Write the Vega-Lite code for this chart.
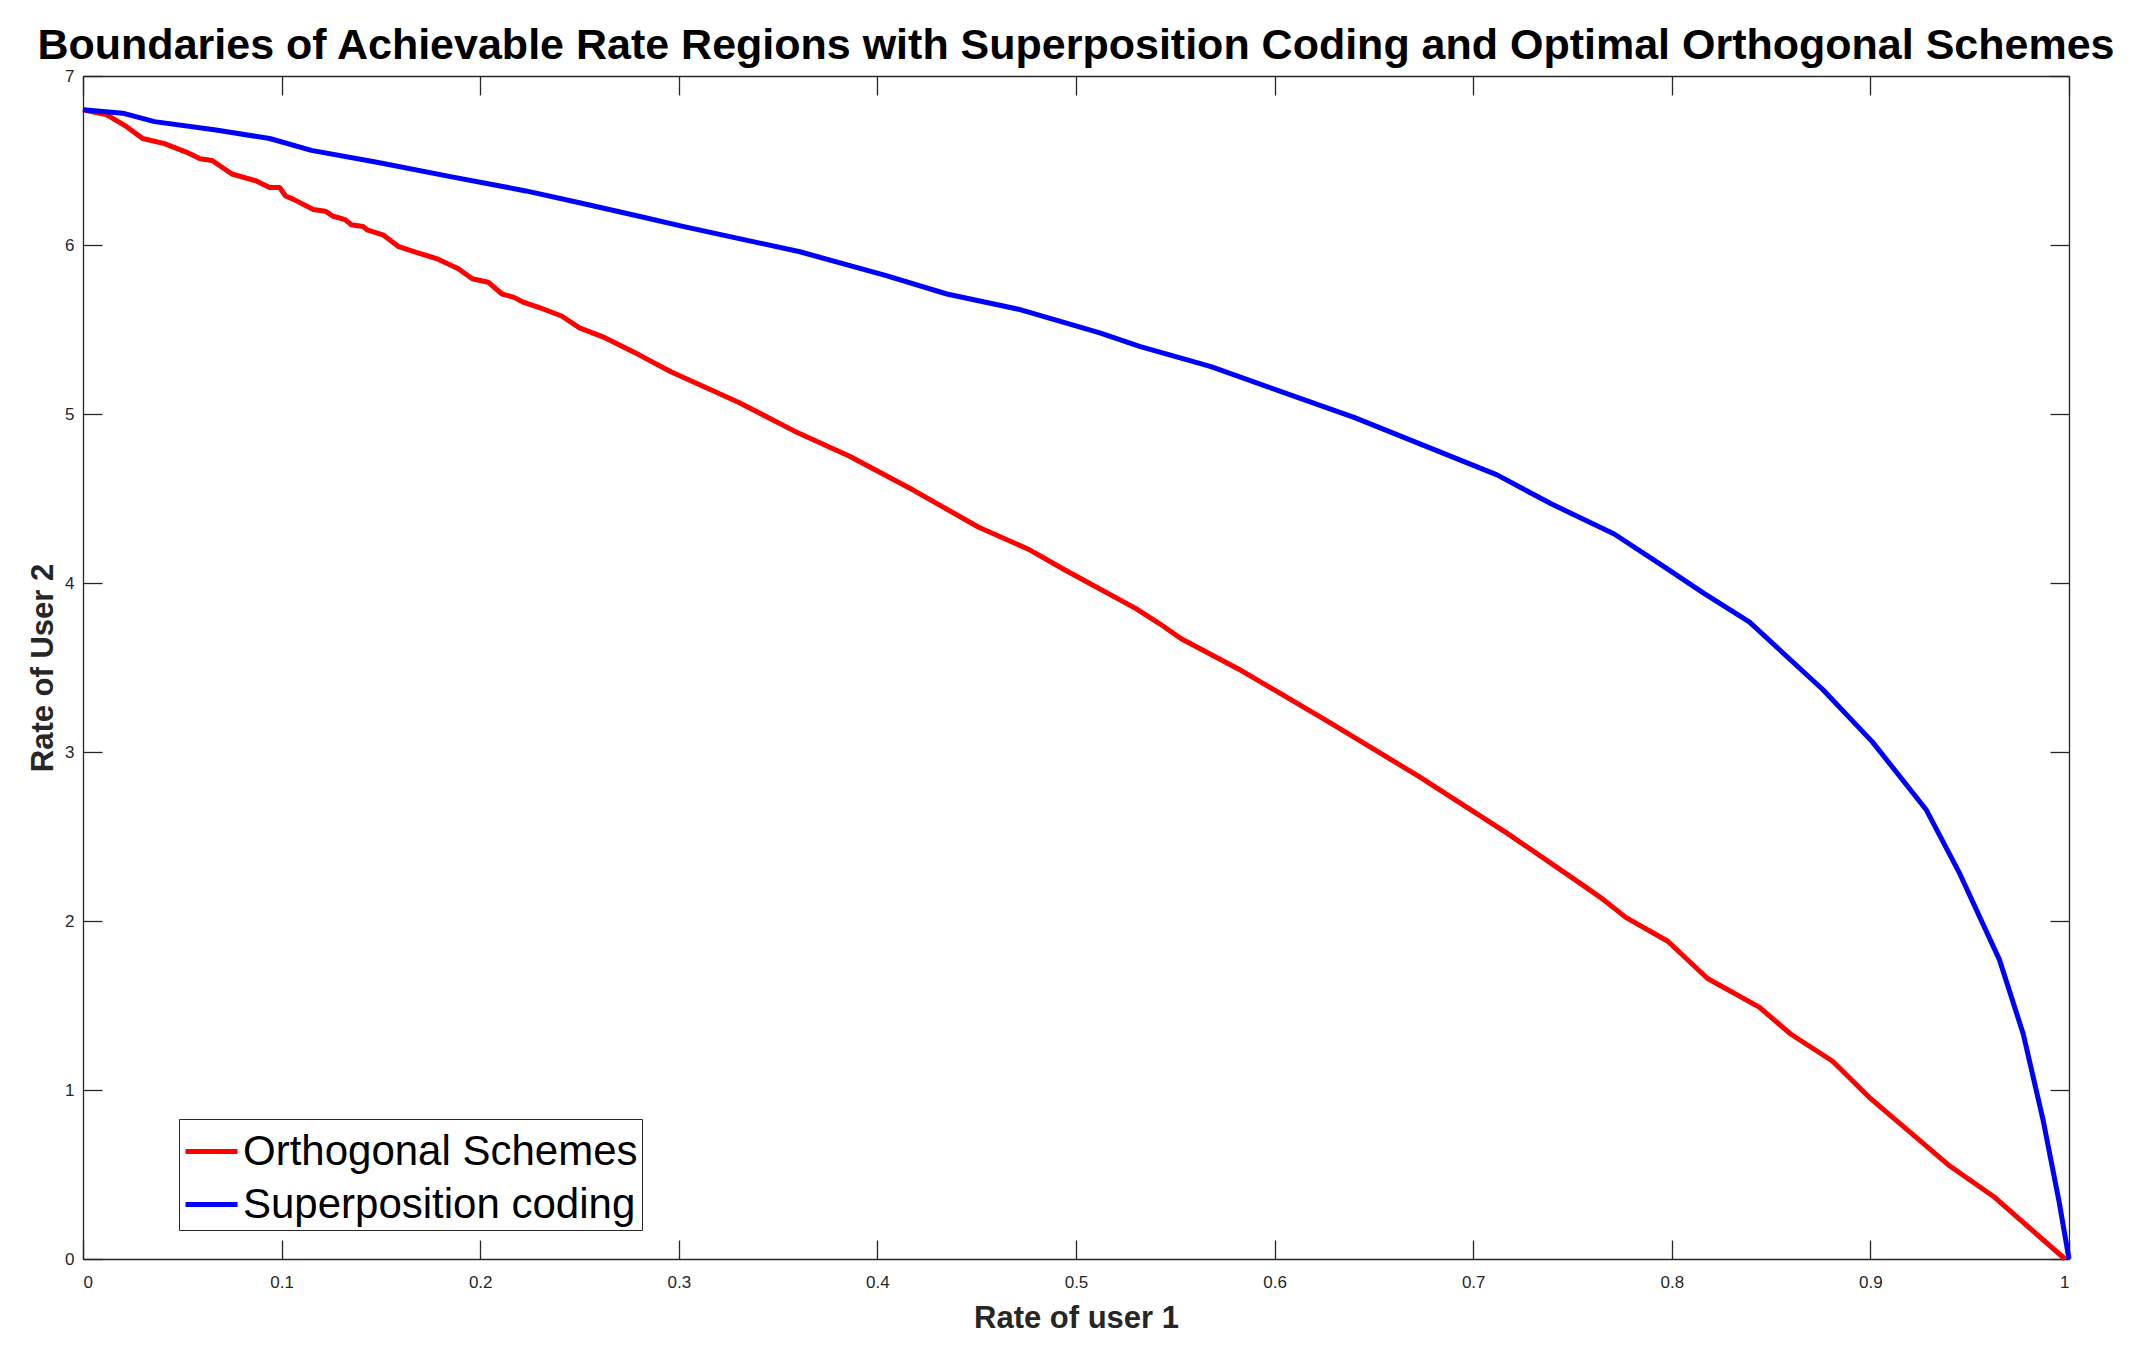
{
  "$schema": "https://vega.github.io/schema/vega-lite/v6.json",
  "width": 1986,
  "height": 1183,
  "autosize": "none",
  "padding": {"left": 83, "top": 76, "right": 62, "bottom": 101},
  "background": "white",
  "config": {
    "font": "Liberation Sans",
    "view": {"stroke": null},
    "axis": {"grid": false, "domainColor": "#262626", "domainWidth": 1.3, "tickColor": "#262626", "tickWidth": 1.3, "labelColor": "#262626", "labelFont": "Liberation Sans", "labelFontSize": 17, "titleFont": "Liberation Sans", "titleFontWeight": "bold", "titleColor": "#262626", "titleFontSize": 31}
  },
  "title": {"text": "Boundaries of Achievable Rate Regions with Superposition Coding and Optimal Orthogonal Schemes", "fontSize": 43, "fontWeight": "bold", "font": "Liberation Sans", "color": "#000000", "anchor": "middle", "baseline": "alphabetic", "offset": -35},
  "data": {"values": [
    {"series": "Orthogonal Schemes", "r1": 0, "r2": 6.80},
    {"series": "Orthogonal Schemes", "r1": 0.012, "r2": 6.77},
    {"series": "Orthogonal Schemes", "r1": 0.022, "r2": 6.70},
    {"series": "Orthogonal Schemes", "r1": 0.03, "r2": 6.63},
    {"series": "Orthogonal Schemes", "r1": 0.041, "r2": 6.60},
    {"series": "Orthogonal Schemes", "r1": 0.052, "r2": 6.55},
    {"series": "Orthogonal Schemes", "r1": 0.059, "r2": 6.51},
    {"series": "Orthogonal Schemes", "r1": 0.065, "r2": 6.50},
    {"series": "Orthogonal Schemes", "r1": 0.075, "r2": 6.42},
    {"series": "Orthogonal Schemes", "r1": 0.087, "r2": 6.38},
    {"series": "Orthogonal Schemes", "r1": 0.094, "r2": 6.34},
    {"series": "Orthogonal Schemes", "r1": 0.099, "r2": 6.34},
    {"series": "Orthogonal Schemes", "r1": 0.102, "r2": 6.29},
    {"series": "Orthogonal Schemes", "r1": 0.106, "r2": 6.27},
    {"series": "Orthogonal Schemes", "r1": 0.116, "r2": 6.21},
    {"series": "Orthogonal Schemes", "r1": 0.122, "r2": 6.20},
    {"series": "Orthogonal Schemes", "r1": 0.126, "r2": 6.17},
    {"series": "Orthogonal Schemes", "r1": 0.132, "r2": 6.15},
    {"series": "Orthogonal Schemes", "r1": 0.135, "r2": 6.12},
    {"series": "Orthogonal Schemes", "r1": 0.141, "r2": 6.11},
    {"series": "Orthogonal Schemes", "r1": 0.143, "r2": 6.09},
    {"series": "Orthogonal Schemes", "r1": 0.151, "r2": 6.06},
    {"series": "Orthogonal Schemes", "r1": 0.159, "r2": 5.99},
    {"series": "Orthogonal Schemes", "r1": 0.167, "r2": 5.96},
    {"series": "Orthogonal Schemes", "r1": 0.178, "r2": 5.92},
    {"series": "Orthogonal Schemes", "r1": 0.189, "r2": 5.86},
    {"series": "Orthogonal Schemes", "r1": 0.196, "r2": 5.80},
    {"series": "Orthogonal Schemes", "r1": 0.204, "r2": 5.78},
    {"series": "Orthogonal Schemes", "r1": 0.211, "r2": 5.71},
    {"series": "Orthogonal Schemes", "r1": 0.217, "r2": 5.69},
    {"series": "Orthogonal Schemes", "r1": 0.222, "r2": 5.66},
    {"series": "Orthogonal Schemes", "r1": 0.232, "r2": 5.62},
    {"series": "Orthogonal Schemes", "r1": 0.241, "r2": 5.58},
    {"series": "Orthogonal Schemes", "r1": 0.25, "r2": 5.51},
    {"series": "Orthogonal Schemes", "r1": 0.263, "r2": 5.45},
    {"series": "Orthogonal Schemes", "r1": 0.28, "r2": 5.35},
    {"series": "Orthogonal Schemes", "r1": 0.296, "r2": 5.25},
    {"series": "Orthogonal Schemes", "r1": 0.33, "r2": 5.07},
    {"series": "Orthogonal Schemes", "r1": 0.358, "r2": 4.90},
    {"series": "Orthogonal Schemes", "r1": 0.386, "r2": 4.75},
    {"series": "Orthogonal Schemes", "r1": 0.418, "r2": 4.55},
    {"series": "Orthogonal Schemes", "r1": 0.451, "r2": 4.33},
    {"series": "Orthogonal Schemes", "r1": 0.476, "r2": 4.20},
    {"series": "Orthogonal Schemes", "r1": 0.494, "r2": 4.08},
    {"series": "Orthogonal Schemes", "r1": 0.53, "r2": 3.85},
    {"series": "Orthogonal Schemes", "r1": 0.542, "r2": 3.76},
    {"series": "Orthogonal Schemes", "r1": 0.553, "r2": 3.67},
    {"series": "Orthogonal Schemes", "r1": 0.582, "r2": 3.49},
    {"series": "Orthogonal Schemes", "r1": 0.627, "r2": 3.18},
    {"series": "Orthogonal Schemes", "r1": 0.672, "r2": 2.86},
    {"series": "Orthogonal Schemes", "r1": 0.717, "r2": 2.52},
    {"series": "Orthogonal Schemes", "r1": 0.753, "r2": 2.23},
    {"series": "Orthogonal Schemes", "r1": 0.764, "r2": 2.14},
    {"series": "Orthogonal Schemes", "r1": 0.777, "r2": 2.02},
    {"series": "Orthogonal Schemes", "r1": 0.798, "r2": 1.88},
    {"series": "Orthogonal Schemes", "r1": 0.818, "r2": 1.66},
    {"series": "Orthogonal Schemes", "r1": 0.844, "r2": 1.49},
    {"series": "Orthogonal Schemes", "r1": 0.86, "r2": 1.33},
    {"series": "Orthogonal Schemes", "r1": 0.881, "r2": 1.17},
    {"series": "Orthogonal Schemes", "r1": 0.9, "r2": 0.95},
    {"series": "Orthogonal Schemes", "r1": 0.94, "r2": 0.55},
    {"series": "Orthogonal Schemes", "r1": 0.962, "r2": 0.37},
    {"series": "Orthogonal Schemes", "r1": 0.998, "r2": 0.0},
    {"series": "Superposition coding", "r1": 0, "r2": 6.80},
    {"series": "Superposition coding", "r1": 0.02, "r2": 6.78},
    {"series": "Superposition coding", "r1": 0.036, "r2": 6.73},
    {"series": "Superposition coding", "r1": 0.067, "r2": 6.68},
    {"series": "Superposition coding", "r1": 0.094, "r2": 6.63},
    {"series": "Superposition coding", "r1": 0.115, "r2": 6.56},
    {"series": "Superposition coding", "r1": 0.148, "r2": 6.49},
    {"series": "Superposition coding", "r1": 0.187, "r2": 6.40},
    {"series": "Superposition coding", "r1": 0.223, "r2": 6.32},
    {"series": "Superposition coding", "r1": 0.25, "r2": 6.25},
    {"series": "Superposition coding", "r1": 0.28, "r2": 6.17},
    {"series": "Superposition coding", "r1": 0.302, "r2": 6.11},
    {"series": "Superposition coding", "r1": 0.361, "r2": 5.96},
    {"series": "Superposition coding", "r1": 0.404, "r2": 5.82},
    {"series": "Superposition coding", "r1": 0.435, "r2": 5.71},
    {"series": "Superposition coding", "r1": 0.471, "r2": 5.62},
    {"series": "Superposition coding", "r1": 0.512, "r2": 5.48},
    {"series": "Superposition coding", "r1": 0.532, "r2": 5.40},
    {"series": "Superposition coding", "r1": 0.568, "r2": 5.28},
    {"series": "Superposition coding", "r1": 0.604, "r2": 5.13},
    {"series": "Superposition coding", "r1": 0.64, "r2": 4.98},
    {"series": "Superposition coding", "r1": 0.676, "r2": 4.81},
    {"series": "Superposition coding", "r1": 0.712, "r2": 4.64},
    {"series": "Superposition coding", "r1": 0.739, "r2": 4.47},
    {"series": "Superposition coding", "r1": 0.771, "r2": 4.29},
    {"series": "Superposition coding", "r1": 0.797, "r2": 4.09},
    {"series": "Superposition coding", "r1": 0.816, "r2": 3.94},
    {"series": "Superposition coding", "r1": 0.839, "r2": 3.77},
    {"series": "Superposition coding", "r1": 0.876, "r2": 3.37},
    {"series": "Superposition coding", "r1": 0.901, "r2": 3.06},
    {"series": "Superposition coding", "r1": 0.928, "r2": 2.66},
    {"series": "Superposition coding", "r1": 0.945, "r2": 2.28},
    {"series": "Superposition coding", "r1": 0.965, "r2": 1.77},
    {"series": "Superposition coding", "r1": 0.977, "r2": 1.33},
    {"series": "Superposition coding", "r1": 0.987, "r2": 0.82},
    {"series": "Superposition coding", "r1": 0.995, "r2": 0.34},
    {"series": "Superposition coding", "r1": 1.0, "r2": 0.0}
  ]},
  "layer": [
    {
      "mark": {"type": "line", "strokeWidth": 5, "strokeJoin": "round", "strokeCap": "butt"},
      "encoding": {
        "x": {"field": "r1", "type": "quantitative", "scale": {"domain": [0, 1], "nice": false, "zero": false},
              "axis": {"orient": "bottom", "title": "Rate of user 1", "values": [0, 0.1, 0.2, 0.3, 0.4, 0.5, 0.6, 0.7, 0.8, 0.9, 1], "format": "~g", "tickSize": -19, "labelPadding": 34, "titleBaseline": "alphabetic", "titleY": 68}},
        "y": {"field": "r2", "type": "quantitative", "scale": {"domain": [0, 7], "nice": false, "zero": false},
              "axis": {"orient": "left", "title": "Rate of User 2", "values": [0, 1, 2, 3, 4, 5, 6, 7], "format": "d", "tickSize": -19, "labelPadding": 28, "titleBaseline": "alphabetic", "titleX": -31}},
        "color": {"field": "series", "type": "nominal",
                  "scale": {"domain": ["Orthogonal Schemes", "Superposition coding"], "range": ["#FF0000", "#0000FF"]},
                  "legend": {"title": null, "orient": "none", "legendX": 96, "legendY": 1043, "symbolType": "stroke", "symbolSize": 2704, "symbolStrokeWidth": 5, "labelFontSize": 42, "labelFont": "Liberation Sans", "labelColor": "#000000", "labelOffset": 3, "rowPadding": 3, "padding": 4, "strokeColor": "#262626", "fillColor": "white", "labelLimit": 1000}}
      }
    },
    {
      "mark": {"type": "line", "opacity": 0},
      "encoding": {
        "x": {"field": "r1", "type": "quantitative", "scale": {"domain": [0, 1], "nice": false, "zero": false},
              "axis": {"orient": "top", "title": null, "labels": false, "values": [0, 0.1, 0.2, 0.3, 0.4, 0.5, 0.6, 0.7, 0.8, 0.9, 1], "tickSize": -19}},
        "y": {"field": "r2", "type": "quantitative", "scale": {"domain": [0, 7], "nice": false, "zero": false},
              "axis": {"orient": "right", "title": null, "labels": false, "values": [0, 1, 2, 3, 4, 5, 6, 7], "tickSize": -19}},
        "detail": {"field": "series"}
      }
    }
  ],
  "resolve": {"axis": {"x": "independent", "y": "independent"}}
}
